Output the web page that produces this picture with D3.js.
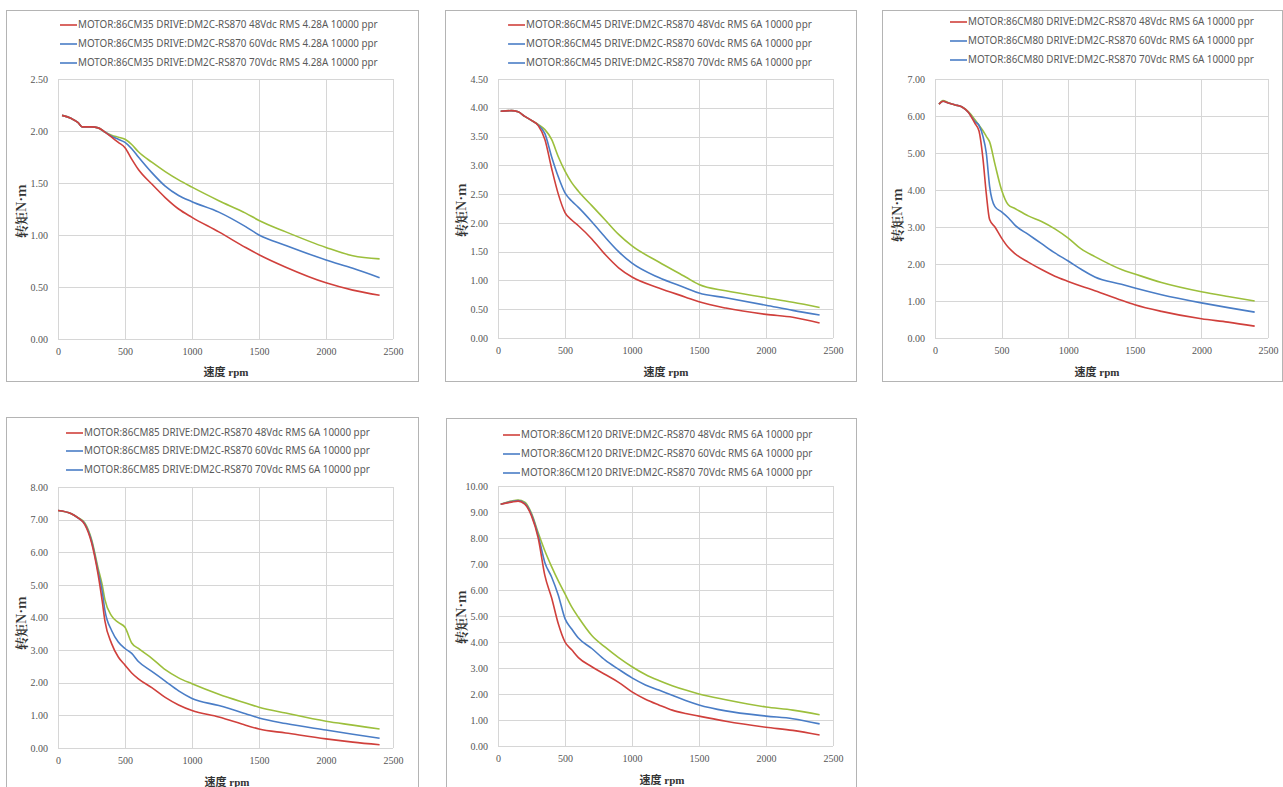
<!DOCTYPE html>
<html><head><meta charset="utf-8">
<script src="https://cdn.jsdelivr.net/npm/d3@7"></script>
<style>
html,body{margin:0;padding:0;background:#fff;}
svg{display:block;}
</style></head>
<body>
<svg id="c" width="1283" height="787"></svg>
<script>
// ---------- DATA ----------
const xTicks = [0, 500, 1000, 1500, 2000, 2500];
const voltages = ["48Vdc", "60Vdc", "70Vdc"];
const motors = ["86CM35", "86CM45", "86CM80", "86CM85", "86CM120"];
const currents = ["4.28A", "6A", "6A", "6A", "6A"];
const yMaxes = [2.5, 4.5, 7, 8, 10];
const ySteps = [0.5, 0.5, 1, 1, 1];

const p1Rpm = [30,100,150,180,250,300,350,400,450,500,550,600,700,800,900,1000,1200,1400,1500,1700,2000,2200,2400];
const p1T48 = [2.15,2.12,2.08,2.04,2.04,2.03,1.99,1.94,1.89,1.84,1.73,1.63,1.49,1.36,1.25,1.17,1.03,0.88,0.81,0.69,0.54,0.47,0.42];
const p1T60 = [2.15,2.12,2.08,2.04,2.04,2.03,1.99,1.95,1.92,1.89,1.83,1.75,1.60,1.47,1.38,1.32,1.22,1.08,1.00,0.90,0.76,0.68,0.59];
const p1T70 = [2.15,2.12,2.08,2.04,2.04,2.03,1.99,1.96,1.94,1.92,1.87,1.80,1.70,1.61,1.53,1.46,1.33,1.21,1.14,1.03,0.88,0.80,0.77];

const p2Rpm = [20,100,150,200,250,300,350,400,450,500,550,600,700,800,900,1000,1200,1400,1500,1700,2000,2200,2400];
const p2T48 = [3.94,3.95,3.93,3.85,3.78,3.69,3.45,2.95,2.50,2.18,2.05,1.95,1.72,1.45,1.22,1.06,0.87,0.71,0.63,0.52,0.41,0.36,0.26];
const p2T60 = [3.94,3.95,3.93,3.85,3.78,3.70,3.55,3.15,2.80,2.52,2.38,2.27,2.02,1.75,1.50,1.30,1.05,0.87,0.78,0.70,0.57,0.48,0.40];
const p2T70 = [3.94,3.95,3.93,3.85,3.78,3.71,3.62,3.45,3.15,2.90,2.70,2.55,2.30,2.05,1.80,1.60,1.32,1.06,0.93,0.82,0.70,0.62,0.53];

const p3Rpm = [30,60,100,150,200,250,300,330,360,385,410,450,500,550,600,700,800,900,1000,1100,1200,1400,1500,1700,2000,2200,2400];
const p3T48 = [6.32,6.40,6.35,6.30,6.25,6.10,5.80,5.60,4.85,3.90,3.20,3.00,2.70,2.45,2.28,2.05,1.85,1.67,1.53,1.40,1.28,1.02,0.90,0.72,0.52,0.43,0.32];
const p3T60 = [6.32,6.40,6.35,6.30,6.25,6.10,5.85,5.75,5.45,5.00,4.10,3.55,3.41,3.25,3.05,2.80,2.55,2.30,2.08,1.85,1.65,1.45,1.35,1.17,0.95,0.82,0.70];
const p3T70 = [6.32,6.42,6.36,6.30,6.25,6.12,5.90,5.75,5.60,5.45,5.30,4.70,4.00,3.60,3.50,3.30,3.15,2.95,2.70,2.40,2.20,1.85,1.73,1.50,1.25,1.12,1.00];

const p4Rpm = [0,100,150,200,250,300,330,350,400,450,500,550,600,700,800,900,1000,1200,1400,1500,1700,2000,2200,2400];
const p4T48 = [7.28,7.18,7.05,6.85,6.30,5.30,4.50,3.90,3.20,2.79,2.54,2.30,2.12,1.85,1.55,1.32,1.15,0.95,0.70,0.58,0.46,0.28,0.18,0.10];
const p4T60 = [7.28,7.18,7.05,6.87,6.35,5.40,4.80,4.22,3.60,3.25,3.05,2.90,2.65,2.35,2.05,1.75,1.52,1.30,1.05,0.92,0.75,0.55,0.42,0.30];
const p4T70 = [7.28,7.18,7.06,6.90,6.40,5.50,5.00,4.55,4.05,3.85,3.70,3.22,3.05,2.75,2.40,2.15,1.97,1.65,1.38,1.25,1.07,0.82,0.70,0.58];

const p5Rpm = [20,100,150,200,250,300,350,400,450,500,550,600,700,800,900,1000,1100,1200,1300,1400,1500,1700,2000,2200,2400];
const p5T48 = [9.30,9.38,9.42,9.30,8.85,8.00,6.55,5.70,4.70,4.00,3.70,3.40,3.05,2.75,2.45,2.08,1.80,1.58,1.38,1.25,1.15,0.95,0.72,0.60,0.42];
const p5T60 = [9.30,9.40,9.44,9.33,8.90,8.10,7.05,6.50,5.80,4.90,4.50,4.15,3.75,3.30,2.95,2.62,2.35,2.15,1.95,1.75,1.58,1.35,1.15,1.05,0.85];
const p5T70 = [9.30,9.42,9.46,9.38,8.95,8.20,7.50,6.90,6.35,5.85,5.35,4.95,4.25,3.80,3.40,3.05,2.75,2.52,2.32,2.15,2.00,1.78,1.50,1.38,1.20];

const panelRpm = [p1Rpm, p2Rpm, p3Rpm, p4Rpm, p5Rpm];
const panelTorque = [[p1T48,p1T60,p1T70],[p2T48,p2T60,p2T70],[p3T48,p3T60,p3T70],[p4T48,p4T60,p4T70],[p5T48,p5T60,p5T70]];

// ---------- LAYOUT / STYLE ----------
const layout = [
  {box:[6,10,412,371],   plot:[58,393,79,339],   legX:60,  legY:[25,44,63],    yT:[21,211],  xT:[226,372]},
  {box:[445,10,411,371], plot:[498,833,79,338],  legX:508, legY:[25,44,63],    yT:[461,210], xT:[666,372]},
  {box:[882,10,400,371], plot:[935,1268,79,338], legX:950, legY:[22,41,60],    yT:[897,215], xT:[1097,372]},
  {box:[6,417,412,380],  plot:[58,393,487,748],  legX:66,  legY:[433,451,470], yT:[21,623],  xT:[227,782]},
  {box:[446,418,410,380],plot:[498,833,486,746], legX:503, legY:[435,454,473], yT:[461,617], xT:[662,780]}
];
const lineColors = ["#d0403c", "#4a7dc6", "#9cbf3c"];
const legendColors = ["#d0403c", "#4a7dc6", "#4a7dc6"];

const svg = d3.select("#c");

layout.forEach((L, pi) => {
  const g = svg.append("g");
  g.append("rect").attr("x", L.box[0]+0.5).attr("y", L.box[1]+0.5)
    .attr("width", L.box[2]).attr("height", L.box[3])
    .attr("fill", "#fff").attr("stroke", "#b4b4b4").attr("stroke-width", 1);

  const x = d3.scaleLinear().domain([0, 2500]).range([L.plot[0], L.plot[1]]);
  const y = d3.scaleLinear().domain([0, yMaxes[pi]]).range([L.plot[3], L.plot[2]]);
  const yTicks = d3.range(0, yMaxes[pi] + 1e-9, ySteps[pi]);

  // gridlines
  g.append("g").selectAll("line").data(yTicks).join("line")
    .attr("x1", L.plot[0]).attr("x2", L.plot[1])
    .attr("y1", d => Math.round(y(d)) + 0.5).attr("y2", d => Math.round(y(d)) + 0.5)
    .attr("stroke", "#d6d6d6").attr("stroke-width", 1);
  g.append("g").selectAll("line").data(xTicks).join("line")
    .attr("y1", L.plot[2]).attr("y2", L.plot[3])
    .attr("x1", d => Math.round(x(d)) + 0.5).attr("x2", d => Math.round(x(d)) + 0.5)
    .attr("stroke", "#d6d6d6").attr("stroke-width", 1);

  // axes (tick labels)
  const yAxis = d3.axisLeft(y).tickValues(yTicks).tickFormat(d3.format(".2f")).tickSize(0).tickPadding(10);
  const xAxis = d3.axisBottom(x).tickValues(xTicks).tickFormat(d3.format("d")).tickSize(0).tickPadding(9);
  const ya = g.append("g").attr("transform", `translate(${L.plot[0]},0)`).call(yAxis);
  const xa = g.append("g").attr("transform", `translate(0,${L.plot[3]})`).call(xAxis);
  [ya, xa].forEach(a => {
    a.select(".domain").remove();
    a.selectAll("text").attr("font-family", "'Liberation Serif', 'DejaVu Serif', serif")
      .attr("font-size", 10).attr("fill", "#555");
  });

  // curves
  const line = d3.line().x(d => x(d[0])).y(d => y(d[1])).curve(d3.curveMonotoneX);
  const rpm = panelRpm[pi];
  [2, 1, 0].forEach(si => {
    const pts = rpm.map((r, i) => [r, panelTorque[pi][si][i]]);
    g.append("path").attr("d", line(pts)).attr("fill", "none")
      .attr("stroke", lineColors[si]).attr("stroke-width", 1.6).attr("stroke-linejoin", "round");
  });

  // legend
  voltages.forEach((v, si) => {
    const ly = L.legY[si];
    g.append("line").attr("x1", L.legX).attr("x2", L.legX + 17).attr("y1", ly).attr("y2", ly)
      .attr("stroke", legendColors[si]).attr("stroke-width", 1.6);
    g.append("text").attr("x", L.legX + 18).attr("y", ly).attr("dy", "0.35em")
      .attr("font-family", "'Noto Sans', 'Open Sans', sans-serif").attr("font-size", 9.85)
      .attr("fill", "#595959")
      .text(`MOTOR:${motors[pi]} DRIVE:DM2C-RS870 ${v} RMS ${currents[pi]} 10000 ppr`);
  });

  // axis titles
  g.append("text").attr("transform", `translate(${L.yT[0]},${L.yT[1]}) rotate(-90)`)
    .attr("text-anchor", "middle").attr("dy", "0.35em")
    .attr("font-family", "'Noto Serif CJK SC','Noto Sans CJK SC', serif").attr("font-weight", "bold")
    .attr("font-size", 13).attr("fill", "#333").text("转矩N·m");
  g.append("text").attr("x", L.xT[0]).attr("y", L.xT[1]).attr("text-anchor", "middle").attr("dy", "0.35em")
    .attr("font-family", "'Liberation Serif','Noto Sans CJK SC', serif").attr("font-weight", "bold")
    .attr("font-size", 11).attr("fill", "#333").text("速度 rpm");
});
</script>
</body></html>
